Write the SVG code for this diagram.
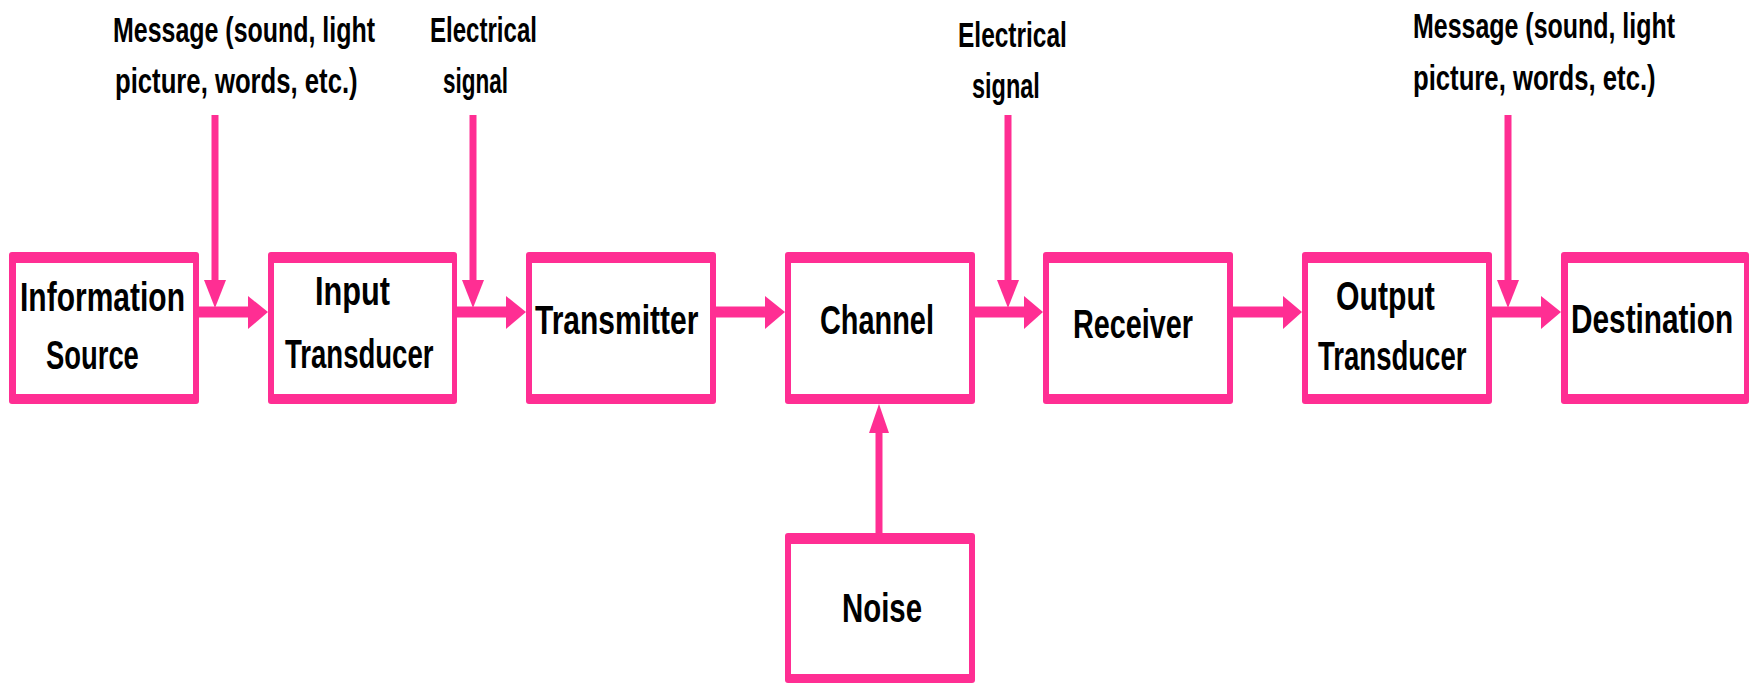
<svg xmlns="http://www.w3.org/2000/svg" width="1756" height="684" viewBox="0 0 1756 684">
<style>
.o{fill:#FF2E93}
.i{fill:#FFFFFF}
text{font-family:"Liberation Sans",Arial,sans-serif;font-weight:bold;fill:#000}
.h{stroke:#FF2E93;stroke-width:11;fill:none}
.v{stroke:#FF2E93;stroke-width:7;fill:none}
.a{fill:#FF2E93}
</style>
<rect width="1756" height="684" fill="#FFFFFF"/>
<g id="labels">
<text transform="translate(113,42) scale(1,1.443)" font-size="24.95">Message (sound, light</text>
<text transform="translate(115,93) scale(1,1.40)" font-size="25.7">picture, words, etc.)</text>
<text transform="translate(430,42) scale(1,1.497)" font-size="24.05">Electrical</text>
<text transform="translate(443,93) scale(1,1.6)" font-size="22.5">signal</text>
<text transform="translate(958,47) scale(1,1.469)" font-size="24.5">Electrical</text>
<text transform="translate(972,98) scale(1,1.53)" font-size="23.5">signal</text>
<text transform="translate(1413,38) scale(1,1.443)" font-size="24.95">Message (sound, light</text>
<text transform="translate(1413,90) scale(1,1.40)" font-size="25.7">picture, words, etc.)</text>
</g>
<g id="connectors">
<line class="h" x1="199" y1="312" x2="250" y2="312"/>
<polygon class="a" points="248,296 268,312 248,329"/>
<line class="h" x1="457" y1="312" x2="508" y2="312"/>
<polygon class="a" points="506,296 526,312 506,329"/>
<line class="h" x1="716" y1="312" x2="767" y2="312"/>
<polygon class="a" points="765,296 785,312 765,329"/>
<line class="h" x1="975" y1="312" x2="1026" y2="312"/>
<polygon class="a" points="1024,296 1043,312 1024,329"/>
<line class="h" x1="1233" y1="312" x2="1285" y2="312"/>
<polygon class="a" points="1283,296 1302,312 1283,329"/>
<line class="h" x1="1492" y1="312" x2="1543" y2="312"/>
<polygon class="a" points="1541,296 1561,312 1541,329"/>
<line class="v" x1="215" y1="115" x2="215" y2="282"/>
<polygon class="a" points="204,280 226,280 215,308"/>
<line class="v" x1="473" y1="115" x2="473" y2="282"/>
<polygon class="a" points="462,280 484,280 473,308"/>
<line class="v" x1="1008" y1="115" x2="1008" y2="282"/>
<polygon class="a" points="997,280 1019,280 1008,308"/>
<line class="v" x1="1508" y1="115" x2="1508" y2="282"/>
<polygon class="a" points="1497,280 1519,280 1508,308"/>
<line class="v" x1="879" y1="534" x2="879" y2="431"/>
<polygon class="a" points="869,433 889,433 879,404"/>
</g>
<g id="info-source">
<rect class="o" x="9" y="252" width="190" height="152" rx="3"/>
<rect class="i" x="16" y="263" width="177" height="131"/>
<text transform="translate(20,311) scale(1,1.366)" font-size="30">Information</text>
<text transform="translate(46,369) scale(1,1.495)" font-size="27.4">Source</text>
</g>
<g id="input-transducer">
<rect class="o" x="268" y="252" width="189" height="152" rx="3"/>
<rect class="i" x="274" y="263" width="178" height="131"/>
<text transform="translate(315,305) scale(1,1.336)" font-size="30.7">Input</text>
<text transform="translate(285,368) scale(1,1.488)" font-size="27.55">Transducer</text>
</g>
<g id="transmitter">
<rect class="o" x="526" y="252" width="190" height="152" rx="3"/>
<rect class="i" x="532" y="263" width="178" height="131"/>
<text transform="translate(535,334) scale(1,1.366)" font-size="30">Transmitter</text>
</g>
<g id="channel">
<rect class="o" x="785" y="252" width="190" height="152" rx="3"/>
<rect class="i" x="791" y="263" width="178" height="131"/>
<text transform="translate(820,334) scale(1,1.418)" font-size="28.9">Channel</text>
</g>
<g id="receiver">
<rect class="o" x="1043" y="252" width="190" height="152" rx="3"/>
<rect class="i" x="1049" y="263" width="178" height="131"/>
<text transform="translate(1073,338) scale(1,1.424)" font-size="28.8">Receiver</text>
</g>
<g id="output-transducer">
<rect class="o" x="1302" y="252" width="190" height="152" rx="3"/>
<rect class="i" x="1308" y="263" width="178" height="131"/>
<text transform="translate(1336,310) scale(1,1.357)" font-size="30.2">Output</text>
<text transform="translate(1318,370) scale(1,1.488)" font-size="27.55">Transducer</text>
</g>
<g id="destination">
<rect class="o" x="1561" y="252" width="188" height="152" rx="3"/>
<rect class="i" x="1568" y="263" width="176" height="131"/>
<text transform="translate(1571,333) scale(1,1.377)" font-size="29.8">Destination</text>
</g>
<g id="noise">
<rect class="o" x="785" y="533" width="190" height="150" rx="3"/>
<rect class="i" x="791" y="544" width="178" height="130"/>
<text transform="translate(842,622) scale(1,1.395)" font-size="29.4">Noise</text>
</g>
</svg>
